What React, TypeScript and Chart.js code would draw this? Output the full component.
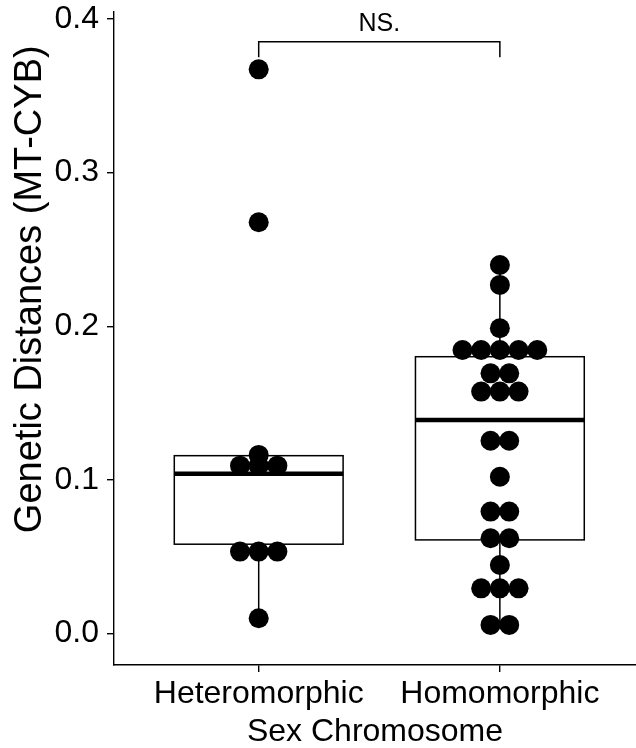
import React, { useEffect, useRef } from "react";
import { Chart, registerables } from "chart.js";

Chart.register(...registerables);

// ---------- data ----------
const categories = ["Heteromorphic", "Homomorphic"];
const heteroValues = [0.3672, 0.2677, 0.1163, 0.1093, 0.1093, 0.1093, 0.0534, 0.0534, 0.0534, 0.01];
const homoValues = [
  0.2399, 0.2269, 0.1987,
  0.1846, 0.1846, 0.1846, 0.1846, 0.1846,
  0.1694, 0.1694,
  0.1575, 0.1575, 0.1575,
  0.1255, 0.1255,
  0.1021,
  0.0794, 0.0794,
  0.0621, 0.0621,
  0.0447,
  0.0295, 0.0295, 0.0295,
  0.0057, 0.0057,
];
const boxQ1 = [0.0582, 0.061];
const boxMedian = [0.104, 0.139];
const boxQ3 = [0.1158, 0.1802];
const whiskerLow = [0.01, 0.0057];
const whiskerHigh = [0.1163, 0.2399];
const yTickValues = [0, 0.1, 0.2, 0.3, 0.4];
const yTitle = "Genetic Distances (MT-CYB)";
const xTitle = "Sex Chromosome";
const bracketLabel = "NS.";
const bracketLevel = [0.3852];
const bracketTipLevel = [0.375];

// ---------- style ----------
const FONT = "'Liberation Sans', Arial, Helvetica, sans-serif";
const DOT_STEP = 0.0775; // horizontal spacing between stacked dots (x units)
const BOX_HALF = 0.35;

function stackPoints(values: number[], cat: number) {
  const groups = new Map<number, number>();
  values.forEach((v) => groups.set(v, (groups.get(v) || 0) + 1));
  const pts: { x: number; y: number }[] = [];
  groups.forEach((n, v) => {
    for (let i = 0; i < n; i++) {
      pts.push({ x: cat + (i - (n - 1) / 2) * DOT_STEP, y: v });
    }
  });
  return pts;
}

const boxPlugin = {
  id: "boxes",
  beforeDatasetsDraw(chart: any) {
    const { ctx } = chart;
    const xs = chart.scales.x;
    const ys = chart.scales.y;
    ctx.save();
    ctx.strokeStyle = "#000";
    for (let i = 0; i < categories.length; i++) {
      const cx = xs.getPixelForValue(i + 1);
      const l = xs.getPixelForValue(i + 1 - BOX_HALF);
      const r = xs.getPixelForValue(i + 1 + BOX_HALF);
      const yq1 = ys.getPixelForValue(boxQ1[i]);
      const yq3 = ys.getPixelForValue(boxQ3[i]);
      const ymed = ys.getPixelForValue(boxMedian[i]);
      const ylo = ys.getPixelForValue(whiskerLow[i]);
      const yhi = ys.getPixelForValue(whiskerHigh[i]);
      ctx.lineWidth = 1.5;
      ctx.beginPath();
      ctx.moveTo(cx, yq3);
      ctx.lineTo(cx, yhi);
      ctx.moveTo(cx, yq1);
      ctx.lineTo(cx, ylo);
      ctx.stroke();
      ctx.fillStyle = "#fff";
      ctx.fillRect(l, yq3, r - l, yq1 - yq3);
      ctx.strokeRect(l, yq3, r - l, yq1 - yq3);
      ctx.lineWidth = 4.5;
      ctx.beginPath();
      ctx.moveTo(l, ymed);
      ctx.lineTo(r, ymed);
      ctx.stroke();
    }
    ctx.restore();
  },
  afterDatasetsDraw(chart: any) {
    const { ctx } = chart;
    const xs = chart.scales.x;
    const ys = chart.scales.y;
    const x1 = xs.getPixelForValue(1);
    const x2 = xs.getPixelForValue(2);
    const yb = ys.getPixelForValue(bracketLevel[0]);
    const yt = ys.getPixelForValue(bracketTipLevel[0]);
    ctx.save();
    ctx.strokeStyle = "#000";
    ctx.lineWidth = 1.5;
    ctx.beginPath();
    ctx.moveTo(x1, yt);
    ctx.lineTo(x1, yb);
    ctx.lineTo(x2, yb);
    ctx.lineTo(x2, yt);
    ctx.stroke();
    ctx.fillStyle = "#000";
    ctx.font = `25px ${FONT}`;
    ctx.textAlign = "center";
    ctx.textBaseline = "alphabetic";
    ctx.fillText(bracketLabel, (x1 + x2) / 2, yb - 10.5);
    ctx.restore();
  },
  afterDraw(chart: any) {
    // y-axis title, placed as in the reference
    const { ctx } = chart;
    const ys = chart.scales.y;
    const cy = ys.getPixelForValue(0.2241);
    ctx.save();
    ctx.translate(31, cy);
    ctx.rotate(-Math.PI / 2);
    ctx.fillStyle = "#000";
    ctx.font = `38px ${FONT}`;
    ctx.textAlign = "center";
    ctx.textBaseline = "middle";
    ctx.fillText(yTitle, 0, 0);
    ctx.restore();
  },
};

export default function App() {
  const ref = useRef<HTMLCanvasElement | null>(null);
  useEffect(() => {
    document.body.style.margin = "0";
    if (!ref.current) return;
    const points = [...stackPoints(heteroValues, 1), ...stackPoints(homoValues, 2)];
    const chart = new Chart(ref.current, {
      type: "scatter",
      data: {
        datasets: [
          {
            data: points,
            backgroundColor: "#000",
            borderWidth: 0,
            pointRadius: 10,
            pointHoverRadius: 10,
          },
        ],
      },
      options: {
        animation: false,
        responsive: false,
        devicePixelRatio: 1,
        events: [],
        layout: { autoPadding: false, padding: { top: 12, left: 0, right: 0, bottom: 0 } },
        plugins: { legend: { display: false }, tooltip: { enabled: false } },
        scales: {
          x: {
            type: "linear",
            min: 0.4,
            max: 2.5645,
            afterBuildTicks: (s: any) => {
              s.ticks = categories.map((_, i) => ({ value: i + 1 }));
            },
            afterFit: (s: any) => {
              s.height = 83;
              s.paddingLeft = 0;
              s.paddingRight = 0;
            },
            border: { display: true, color: "#000", width: 1.4 },
            grid: { display: true, drawOnChartArea: false, drawTicks: true, tickLength: 7, color: "#000", lineWidth: 1.4 },
            ticks: {
              autoSkip: false,
              maxRotation: 0,
              padding: 3,
              color: "#000",
              font: { size: 32, family: FONT, lineHeight: 1.2 },
              callback: (v: any) => categories[Math.round(Number(v)) - 1] ?? "",
            },
            title: {
              display: true,
              text: xTitle,
              color: "#000",
              font: { size: 32, family: FONT, lineHeight: 1 },
              padding: { top: 0, bottom: 0 },
            },
          },
          y: {
            type: "linear",
            min: -0.0204,
            max: 0.4045,
            afterBuildTicks: (s: any) => {
              s.ticks = yTickValues.map((v) => ({ value: v }));
            },
            afterFit: (s: any) => {
              s.width = 114;
              s.paddingTop = 0;
              s.paddingBottom = 0;
            },
            border: { display: true, color: "#000", width: 1.4 },
            grid: { display: true, drawOnChartArea: false, drawTicks: true, tickLength: 7, color: "#000", lineWidth: 1.4 },
            ticks: {
              autoSkip: false,
              padding: 8,
              color: "#000",
              font: { size: 32, family: FONT, lineHeight: 1.2 },
              callback: (v: any) => Number(v).toFixed(1),
            },
            title: { display: false },
          },
        },
      },
      plugins: [boxPlugin],
    } as any);
    return () => chart.destroy();
  }, []);
  return (
    <div style={{ width: 636, height: 748 }}>
      <canvas ref={ref} width={636} height={748} style={{ display: "block" }} />
    </div>
  );
}
